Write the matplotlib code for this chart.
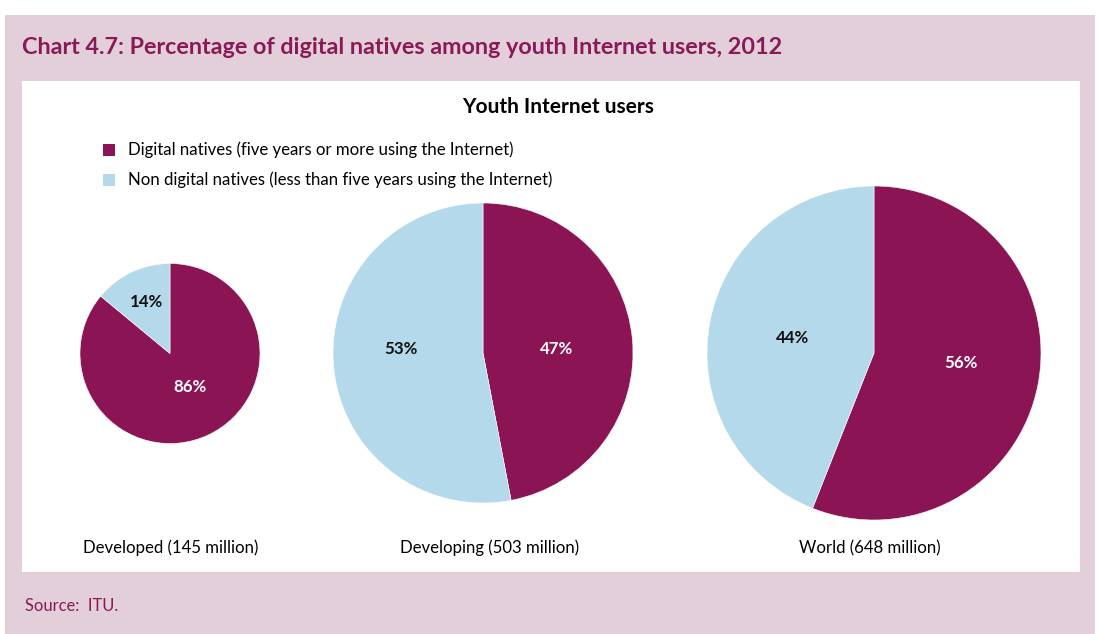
import matplotlib
matplotlib.use("Agg")
import matplotlib.pyplot as plt
from matplotlib.patches import Rectangle

# shares of youth Internet users (percent)
regions = ["Developed", "Developing", "World"]
users_millions = [145, 503, 648]
digital_natives = [86, 47, 56]
non_digital = [14, 53, 44]

series_names = ["Digital natives (five years or more using the Internet)",
                "Non digital natives (less than five years using the Internet)"]

MAROON = "#8B1454"
BLUE = "#B4D9EA"
PINK = "#E3CFD9"
TITLE_COL = "#8A1A57"

plt.rcParams["font.family"] = ["Lato", "DejaVu Sans"]

W, H = 1100, 634
fig = plt.figure(figsize=(W / 100, H / 100), dpi=100)
ax = fig.add_axes([0, 0, 1, 1])
ax.set_xlim(0, W)
ax.set_ylim(0, H)
ax.set_aspect("equal")
ax.axis("off")

def Y(y):
    # pixel row -> axes y
    return H - y

# frame and white panel
ax.add_patch(Rectangle((5, Y(634)), 1090, 619, facecolor=PINK, edgecolor="none", zorder=0))
ax.add_patch(Rectangle((22, Y(572)), 1058, 491, facecolor="white", edgecolor="none", zorder=1))

ax.text(22, Y(47), "Chart 4.7: Percentage of digital natives among youth Internet users, 2012",
        fontsize=16.8, fontweight="bold", color=TITLE_COL, va="center", ha="left", zorder=3)
ax.text(558, Y(107), "Youth Internet users", fontsize=15, fontweight="bold",
        color="black", va="center", ha="center", zorder=3)
ax.text(25, Y(606), "Source:  ITU.", fontsize=11.9, color=TITLE_COL, va="center", ha="left", zorder=3)

# legend
for i, (name, col) in enumerate(zip(series_names, [MAROON, BLUE])):
    yc = 150 + i * 30
    ax.add_patch(Rectangle((103, Y(yc + 6)), 12, 12, facecolor=col, edgecolor="none", zorder=3))
    ax.text(128, Y(yc), name, fontsize=12.1, va="center", ha="left", zorder=3)

# pie geometry; label offsets are fractions of each radius
centers = [(170, 353.5), (483, 353), (874, 353)]
radii = [90, 150, 167]
label_offsets = [[(0.22, -0.37), (-0.26, 0.57)],
                 [(0.49, 0.03), (-0.55, 0.03)],
                 [(0.52, -0.06), (-0.49, 0.09)]]
caption_x = [171, 490, 870]

for k in range(len(regions)):
    cx, cy = centers[k]
    vals = [digital_natives[k], non_digital[k]]
    wedges, _ = ax.pie(vals, colors=[MAROON, BLUE], startangle=90, counterclock=False,
                       center=(cx, Y(cy)), radius=radii[k],
                       wedgeprops=dict(edgecolor="white", linewidth=0.4, zorder=2))
    for v, (dx, dy), tc in zip(vals, label_offsets[k], ["white", "#111111"]):
        ax.text(cx + dx * radii[k], Y(cy) + dy * radii[k],
                f"{v}%", color=tc, fontsize=12.2, fontweight="bold",
                ha="center", va="center", zorder=4)
    ax.text(caption_x[k], Y(548), f"{regions[k]} ({users_millions[k]} million)",
            fontsize=12.1, ha="center", va="center", zorder=3)

ax.set_xlim(0, W)
ax.set_ylim(0, H)
fig.savefig("out.png", dpi=100, facecolor="white")
